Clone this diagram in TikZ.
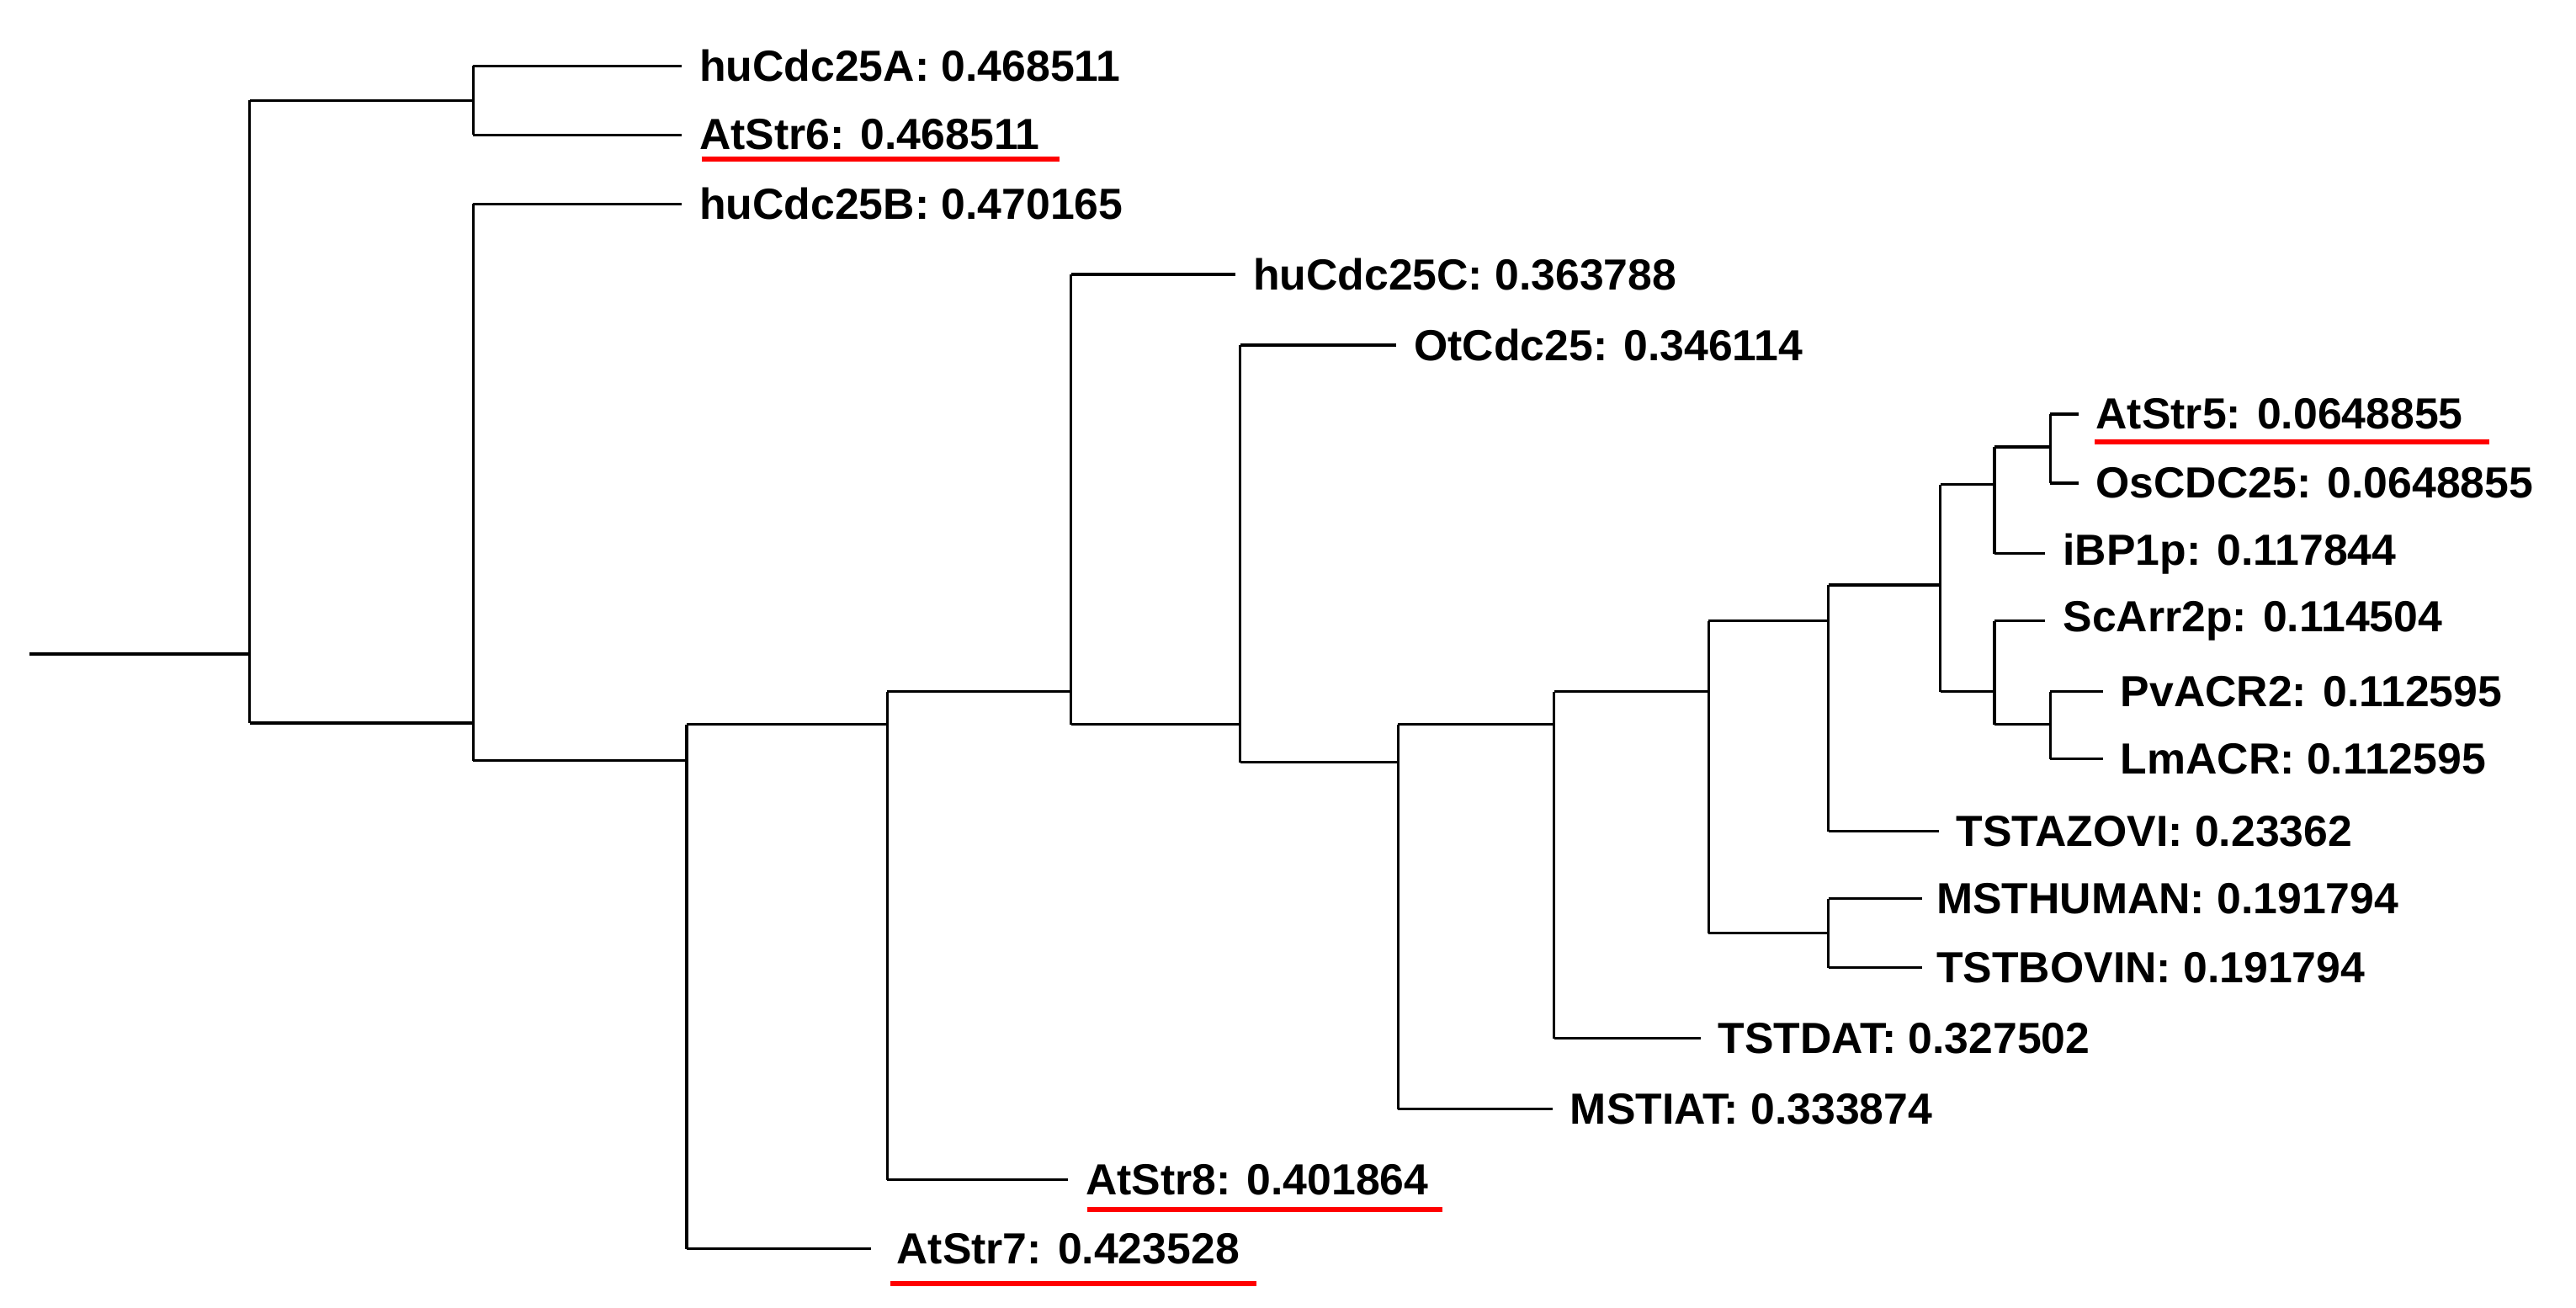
\documentclass[tikz,border=0pt]{standalone}
\usepackage{fontspec}
\setmainfont{Liberation Sans}
\begin{document}
\begin{tikzpicture}[x=1pt,y=-1pt,line width=1.6pt,
  lab/.style={anchor=west,inner sep=0pt,font=\fontsize{26.5}{26.5}\selectfont\bfseries},
  ul/.style={draw=red,line width=3pt}]
\useasboundingbox (0,0) rectangle (1568,796);
\draw (18,398) -- (152,398);
\draw (152,61) -- (152,440);
\draw (152,61) -- (288,61); \draw (288,40) -- (288,82);
\draw (288,40) -- (415,40); \draw (288,82) -- (415,82);
\draw (152,440) -- (288,440); \draw (288,124) -- (288,463);
\draw (288,124) -- (415,124); \draw (288,463) -- (418,463);
\draw (418,441) -- (418,760); \draw (418,760) -- (530,760); \draw (418,441) -- (540,441);
\draw (540,421) -- (540,718); \draw (540,718) -- (650,718); \draw (540,421) -- (652,421);
\draw (652,167) -- (652,441); \draw (652,167) -- (752,167); \draw (652,441) -- (755,441);
\draw (755,210) -- (755,464); \draw (755,210) -- (850,210); \draw (755,464) -- (851,464);
\draw (851,441) -- (851,675); \draw (851,675) -- (945,675); \draw (851,441) -- (946,441);
\draw (946,421) -- (946,632); \draw (946,632) -- (1035,632); \draw (946,421) -- (1040,421);
\draw (1040,378) -- (1040,568); \draw (1040,568) -- (1113,568); \draw (1040,378) -- (1113,378);
\draw (1113,547) -- (1113,589); \draw (1113,547) -- (1170,547); \draw (1113,589) -- (1170,589);
\draw (1113,356) -- (1113,506); \draw (1113,506) -- (1180,506); \draw (1113,356) -- (1181,356);
\draw (1181,295) -- (1181,421); \draw (1181,295) -- (1214,295); \draw (1181,421) -- (1214,421);
\draw (1214,272) -- (1214,337); \draw (1214,337) -- (1245,337); \draw (1214,272) -- (1248,272);
\draw (1248,252) -- (1248,294); \draw (1248,252) -- (1265,252); \draw (1248,294) -- (1265,294);
\draw (1214,378) -- (1214,441); \draw (1214,378) -- (1245,378); \draw (1214,441) -- (1248,441);
\draw (1248,421) -- (1248,462); \draw (1248,421) -- (1280,421); \draw (1248,462) -- (1280,462);
\node[lab] (a) at (425,40) {huCdc25A: 0.468511};
\node[lab] (b) at (425,82) {AtStr6: 0.468511};
\node[lab] (c) at (425,124) {huCdc25B: 0.470165};
\node[lab] (d) at (762,167) {huCdc25C: 0.363788};
\node[lab] (e) at (860,210) {OtCdc25: 0.346114};
\node[lab] (f) at (1275,252) {AtStr5: 0.0648855};
\node[lab] (g) at (1275,294) {OsCDC25: 0.0648855};
\node[lab] (h) at (1255,337) {iBP1p: 0.117844};
\node[lab] (i) at (1255,378) {ScArr2p: 0.114504};
\node[lab] (j) at (1290,421) {PvACR2: 0.112595};
\node[lab] (k) at (1290,462) {LmACR: 0.112595};
\node[lab] (l) at (1190,506) {TSTAZOVI: 0.23362};
\node[lab] (m) at (1178,547) {MSTHUMAN: 0.191794};
\node[lab] (n) at (1178,589) {TSTBOVIN: 0.191794};
\node[lab] (o) at (1045,632) {TSTDAT: 0.327502};
\node[lab] (p) at (955,675) {MSTIAT: 0.333874};
\node[lab] (q) at (660,718) {AtStr8: 0.401864};
\node[lab] (r) at (545,760) {AtStr7: 0.423528};
\draw[ul] (427,97) -- (645,97);
\draw[ul] (1275,269) -- (1515,269);
\draw[ul] (662,736) -- (878,736);
\draw[ul] (542,781) -- (765,781);
\end{tikzpicture}
\end{document}
